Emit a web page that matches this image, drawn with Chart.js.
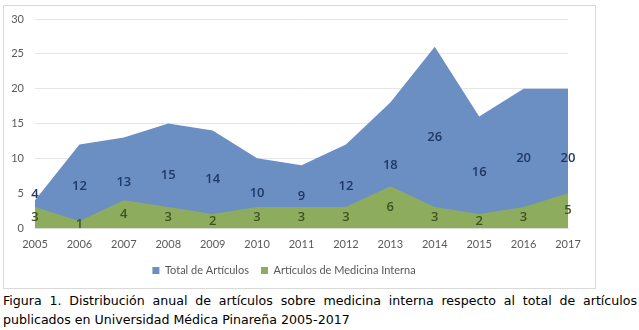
<!DOCTYPE html>
<html>
<head>
<meta charset="utf-8">
<script src="https://cdn.jsdelivr.net/npm/chart.js@4/dist/chart.umd.min.js"></script>
<style>
  body { margin: 0; background: #fff; width: 639px; height: 330px; position: relative; overflow: hidden; }
  #frame { position: absolute; left: 3px; top: 5px; width: 591px; height: 282px; border: 1px solid #d9d9d9; }
  #wrap { position: absolute; left: 0; top: 0; width: 639px; height: 290px; }
  #caption {
    position: absolute; left: 3px; top: 291px; width: 634px;
    font-family: "DejaVu Sans", Verdana, sans-serif; font-size: 12.6px; line-height: 19px;
    color: #000; text-align: justify;
  }
</style>
</head>
<body>
<div id="frame"></div>
<div id="wrap"><canvas id="areaChart" width="639" height="290"></canvas></div>
<div id="caption">Figura 1. Distribución anual de artículos sobre medicina interna respecto al total de artículos publicados en Universidad Médica Pinareña 2005-2017</div>
<script>
// data
const years = ['2005', '2006', '2007', '2008', '2009', '2010', '2011', '2012', '2013', '2014', '2015', '2016', '2017'];
const totalArticulos = [4, 12, 13, 15, 14, 10, 9, 12, 18, 26, 16, 20, 20];
const medicinaInterna = [3, 1, 4, 3, 2, 3, 3, 3, 6, 3, 2, 3, 5];

// labels sit halfway up each area, like Excel's centered labels;
// if the two labels of one year would collide, the top one goes just above its area
const midLabels = {
  id: 'midLabels',
  afterDatasetsDraw(chart) {
    const ctx = chart.ctx;
    const x = chart.scales.x;
    const y = chart.scales.y;
    const sets = chart.data.datasets;
    ctx.save();
    ctx.textAlign = 'center';
    ctx.textBaseline = 'middle';
    ctx.font = '600 13px "Open Sans", Lato, sans-serif';
    sets.forEach((ds, di) => {
      ctx.fillStyle = ds.labelColor;
      ds.data.forEach((v, i) => {
        let py = y.getPixelForValue(v / 2);
        if (di === 0) {
          const other = y.getPixelForValue(sets[1].data[i] / 2);
          if (Math.abs(other - py) < 14) py = y.getPixelForValue(v) - 6;
        }
        ctx.fillText(String(v), x.getPixelForValue(i), py);
      });
    });
    ctx.restore();
  }
};

new Chart(document.getElementById('areaChart'), {
  type: 'line',
  data: {
    labels: years,
    datasets: [
      {
        label: 'Total de Artículos',
        data: totalArticulos,
        fill: 'origin',
        backgroundColor: '#6b8fc3',
        borderColor: '#6b8fc3',
        borderWidth: 0,
        pointRadius: 0,
        tension: 0,
        order: 1,
        labelColor: '#203864'
      },
      {
        label: 'Artículos de Medicina Interna',
        data: medicinaInterna,
        fill: 'origin',
        backgroundColor: '#8eac5e',
        borderColor: '#8eac5e',
        borderWidth: 0,
        pointRadius: 0,
        tension: 0,
        order: 0,
        labelColor: '#3f5320'
      }
    ]
  },
  options: {
    responsive: false,
    animation: false,
    layout: { padding: { left: 0, right: 71, top: 19, bottom: 4 } },
    plugins: {
      tooltip: { enabled: false },
      legend: {
        position: 'bottom',
        labels: {
          sort: (a, b) => a.datasetIndex - b.datasetIndex,
          boxWidth: 7,
          boxHeight: 7,
          padding: 12,
          color: '#595959',
          font: { family: 'Lato, "Open Sans", sans-serif', size: 11 }
        }
      }
    },
    scales: {
      x: {
        grid: { display: false },
        border: { display: true, color: '#d9d9d9' },
        ticks: {
          color: '#595959',
          padding: 2,
          maxRotation: 0,
          autoSkip: false,
          font: { family: 'Lato, "Open Sans", sans-serif', size: 11 }
        },
        afterFit: (scale) => { scale.height = 25; }
      },
      y: {
        min: 0,
        max: 30,
        grid: { color: '#e6e6e6', drawTicks: false },
        border: { display: false },
        ticks: {
          stepSize: 5,
          padding: 11,
          color: '#595959',
          font: { family: 'Lato, "Open Sans", sans-serif', size: 11 }
        },
        afterFit: (scale) => { scale.width = 35; }
      }
    }
  },
  plugins: [midLabels]
});
</script>
</body>
</html>
